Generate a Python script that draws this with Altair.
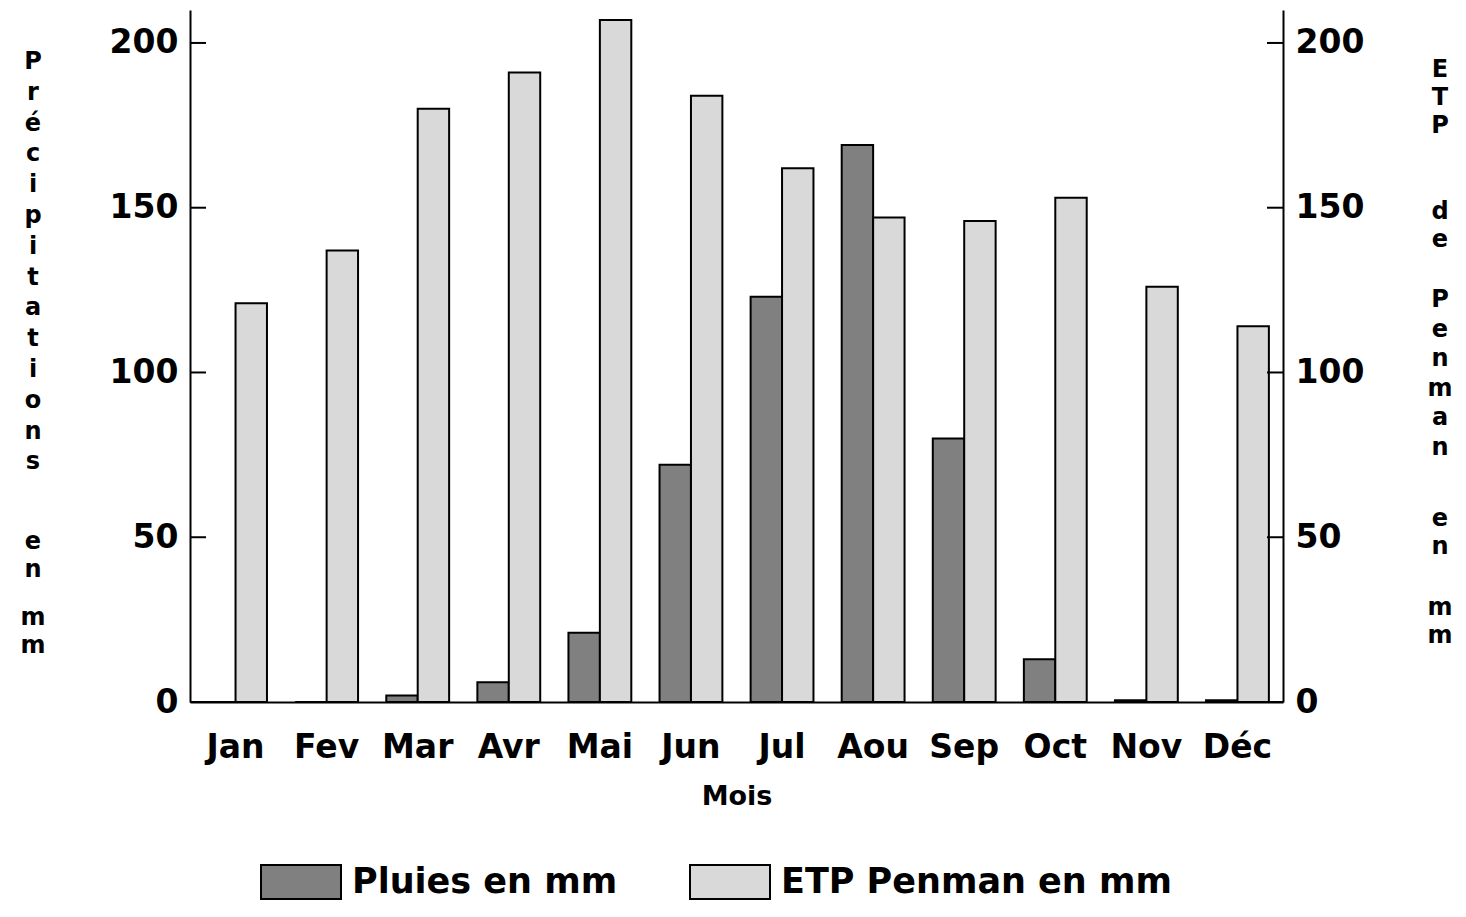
import altair as alt
import pandas as pd

# ---- data ----
months = ["Jan", "Fev", "Mar", "Avr", "Mai", "Jun", "Jul", "Aou", "Sep", "Oct", "Nov", "Déc"]
pluies = [0, 0, 2, 6, 21, 72, 123, 169, 80, 13, 0.5, 0.5]
etp = [121, 137, 180, 191, 207, 184, 162, 147, 146, 153, 126, 114]
series = ["Pluies en mm", "ETP Penman en mm"]
series_colors = ["#808080", "#d9d9d9"]
y_ticks = [0, 50, 100, 150, 200]

# vertical (stacked-letter) axis titles, one word per group
left_words = ["Précipitations", "en", "mm"]
right_words = ["ETP", "de", "Penman", "en", "mm"]

df = pd.DataFrame({
    "Mois": months * 2,
    "Série": [series[0]] * len(months) + [series[1]] * len(months),
    "Valeur": pluies + etp,
})
tick_df = pd.DataFrame({"v": y_ticks})
one = pd.DataFrame({"k": [0]})

FONT = "DejaVu Sans"
W, H = 1093, 692
ydom = [0, 210]

bars = alt.Chart(df).mark_bar(stroke="black", strokeWidth=2, strokeJoin="miter").encode(
    x=alt.X("Mois:N", sort=months,
            scale=alt.Scale(paddingInner=0.31, paddingOuter=0.155),
            axis=alt.Axis(title="Mois", labelAngle=0, ticks=False, tickSize=0,
                          labelPadding=29, labelFont=FONT, labelFontSize=33,
                          labelFontWeight="bold", labelColor="black",
                          titleFont=FONT, titleFontSize=27, titleFontWeight="bold",
                          titleColor="black", titleY=94, titleBaseline="middle",
                          domainColor="black", domainWidth=2)),
    xOffset=alt.XOffset("Série:N", sort=series, scale=alt.Scale(paddingInner=0, paddingOuter=0)),
    y=alt.Y("Valeur:Q", scale=alt.Scale(domain=ydom, nice=False),
            axis=alt.Axis(orient="left", values=y_ticks, ticks=False, tickSize=0, grid=False,
                          labelPadding=12, labelFont=FONT, labelFontSize=33,
                          labelFontWeight="bold", labelColor="black",
                          domainColor="black", domainWidth=2, title=None)),
    color=alt.Color("Série:N", sort=series,
                    scale=alt.Scale(domain=series, range=series_colors),
                    legend=alt.Legend(title=None, orient="none", legendX=70, legendY=831,
                                      direction="horizontal", columns=2,
                                      symbolType="M-1,-0.425L1,-0.425L1,0.425L-1,0.425Z",
                                      symbolSize=6400, symbolStrokeColor="black",
                                      symbolStrokeWidth=2, symbolOpacity=1,
                                      labelFont=FONT, labelFontSize=35, labelFontWeight="bold",
                                      labelColor="black", labelOffset=10, labelLimit=0,
                                      columnPadding=68, padding=0)),
)

left_ticks = alt.Chart(tick_df).mark_rule(color="black", strokeWidth=2).encode(
    y=alt.Y("v:Q", scale=alt.Scale(domain=ydom, nice=False), axis=None),
    x=alt.value(0), x2=alt.value(16),
)

right_ticks = alt.Chart(tick_df).mark_rule(color="black", strokeWidth=2).encode(
    y=alt.Y("v:Q", scale=alt.Scale(domain=ydom, nice=False),
            axis=alt.Axis(orient="right", values=y_ticks, ticks=False, tickSize=0, grid=False,
                          labelPadding=12, labelFont=FONT, labelFontSize=33,
                          labelFontWeight="bold", labelColor="black",
                          domainColor="black", domainWidth=2, title=None)),
    x=alt.value(W - 16), x2=alt.value(W),
)

# placement of the stacked title words (x centre, top y, line height), relative to plot
left_place = [(-157, 40, 30.8), (-157, 520, 28), (-157, 596, 28)]
right_place = [(1250, 48, 28), (1250, 190, 28), (1250, 278, 29.6), (1250, 497, 28), (1250, 586, 28)]


def word_layer(word, place):
    px, py, lh = place
    return alt.Chart(one).mark_text(
        text=list(word), lineHeight=lh, font=FONT, fontSize=24, fontWeight="bold",
        color="black", align="center", baseline="top",
    ).encode(x=alt.value(px), y=alt.value(py))


title_layers = ([word_layer(w, p) for w, p in zip(left_words, left_place)]
                + [word_layer(w, p) for w, p in zip(right_words, right_place)])

chart = alt.layer(bars, left_ticks, right_ticks, *title_layers).resolve_scale(y="independent").properties(
    width=W, height=H,
    autosize=alt.AutoSizeParams(type="none"),
    padding={"left": 182, "top": 2, "right": 175, "bottom": 203},
    background="white",
).configure_view(strokeWidth=0)

chart.save("out.html", embed_options={"renderer": "svg", "actions": False})
